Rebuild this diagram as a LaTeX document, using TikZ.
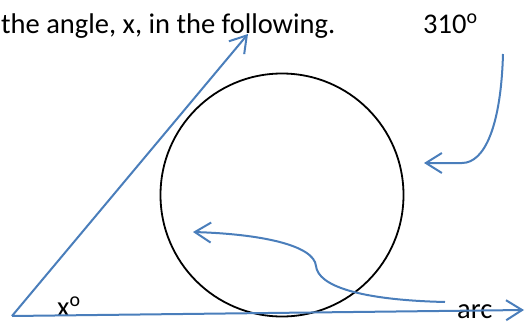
\documentclass[tikz,border=0pt]{standalone}
\usepackage{fontspec}
\setmainfont{Carlito}
\usetikzlibrary{arrows.meta}
\definecolor{linecolor}{RGB}{74,126,187}

\begin{document}
\begin{tikzpicture}[x=1pt,y=-1pt]
  \tikzset{
    ray/.style={
      draw=linecolor,
      line width=2pt,
      -{Straight Barb[length=16pt,width=20pt,line width=2pt]}
    },
    pointer/.style={
      draw=linecolor,
      line width=2pt,
      -{Straight Barb[length=16pt,width=20pt,line width=2pt]}
    },
    label/.style={
      font=\fontsize{28.5}{32}\selectfont,
      inner sep=0pt,
      anchor=base west
    }
  }
  \useasboundingbox (0,0) rectangle (531,324);

  % Draw the texts
  \node[label] at (1,33) (question) {the angle, x, in the following.};
  \node[label] at (423,33) (deg) {310\textsuperscript{o}};
  \node[label] at (57,316) (xdeg) {x\textsuperscript{o}};
  \node[label] at (457,318) (arc) {arc};

  % Draw the circle
  \node[draw, circle, line width=1.8pt, minimum size=243pt, inner sep=0pt] at (282,195) (circ) {};

  % Draw the angle
  \coordinate (vertex) at (12,316);
  \coordinate (rayTop) at (248,34);
  \coordinate (rayEnd) at (524,310);
  \draw[ray] (vertex) -- (rayTop);
  \draw[ray] (vertex) -- (rayEnd);

  % Draw the pointers
  \coordinate (startR) at (503,54);
  \coordinate (kneeR) at (462,163);
  \coordinate (tipR) at (424,163);
  \draw[pointer] (startR) .. controls (501,125) and (485,163) .. (kneeR) -- (tipR);

  \coordinate (startA) at (445,302);
  \coordinate (kinkA) at (316,266);
  \coordinate (tipA) at (193,232);
  \draw[pointer] (startA) .. controls (360,300) and (318,286) .. (kinkA)
    .. controls (314,245) and (260,234) .. (tipA);
\end{tikzpicture}
\end{document}
